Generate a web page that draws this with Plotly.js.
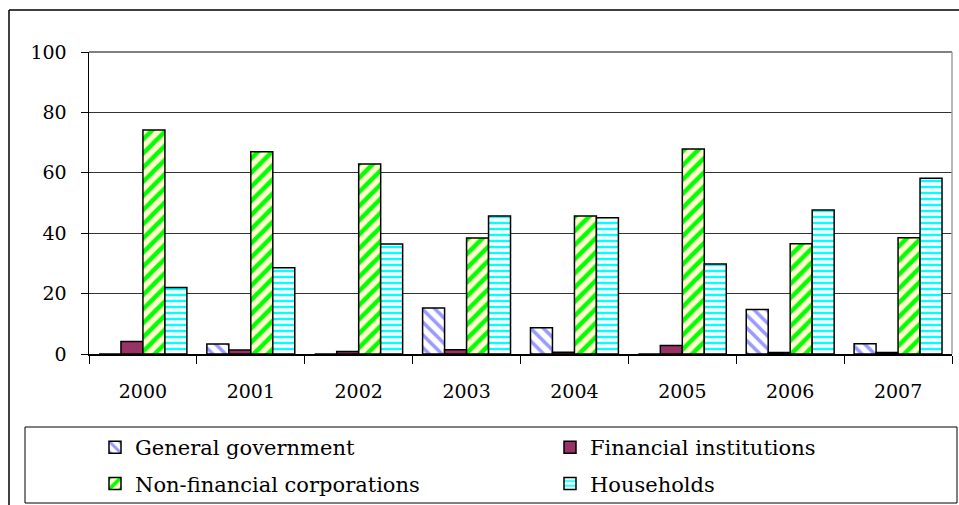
<!DOCTYPE html>
<html>
<head>
<meta charset="utf-8">
<script src="https://cdn.plot.ly/plotly-3.0.1.min.js"></script>
<style>html,body{margin:0;padding:0;background:#fff;}#chart{width:959px;height:505px;}</style>
</head>
<body>
<div id="chart"></div>
<script>
const years = ['2000','2001','2002','2003','2004','2005','2006','2007'];
const generalGovernment = [0, 3.3, 0, 15.2, 8.7, 0, 14.7, 3.4];
const financialInstitutions = [4.1, 1.3, 0.8, 1.4, 0.6, 2.8, 0.5, 0.5];
const nonFinancialCorporations = [74.2, 67.0, 62.9, 38.4, 45.7, 67.9, 36.5, 38.5];
const households = [22.0, 28.6, 36.4, 45.7, 45.1, 29.8, 47.7, 58.2];
const seriesNames = ['General government','Financial institutions','Non-financial corporations','Households'];

const W = 959, H = 505;
const M = {l: 89, r: 7, t: 52, b: 151, autoexpand: false};
const PW = W - M.l - M.r, PH = H - M.t - M.b;
const px = x => (x - M.l) / PW;
const py = y => (H - M.b - y) / PH;

const serif = "DejaVu Serif";
const line = {color: '#000', width: 1.5};

const traces = [
  {type:'bar', name: seriesNames[0], x: years, y: generalGovernment, legend:'legend', legendgroup:'a',
   marker:{color:'#ffffff', line: line, pattern:{shape:'\\', fgcolor:'#9999ff', bgcolor:'#ffffff', size:9, solidity:0.4, fillmode:'replace'}}},
  {type:'bar', name: seriesNames[1], x: years, y: financialInstitutions, legend:'legend2', legendgroup:'b',
   marker:{color:'#993366', line: line}},
  {type:'bar', name: seriesNames[2], x: years, y: nonFinancialCorporations, legend:'legend', legendgroup:'c',
   marker:{color:'#ffffcc', line: line, pattern:{shape:'/', fgcolor:'#00ff00', bgcolor:'#ffffcc', size:10, solidity:0.45, fillmode:'replace'}}},
  {type:'bar', name: seriesNames[3], x: years, y: households, legend:'legend2', legendgroup:'d',
   marker:{color:'#ffffff', line: line, pattern:{shape:'-', fgcolor:'#00ffff', bgcolor:'#ffffff', size:6, solidity:0.4, fillmode:'replace'}}}
];

const legendCommon = {
  orientation:'v', yanchor:'top', xanchor:'left', bgcolor:'rgba(0,0,0,0)', borderwidth:0,
  font:{family: serif, size: 21, color:'#000'}, tracegroupgap: 6, itemwidth: 30, traceorder:'grouped'
};

const layout = {
  width: W, height: H,
  margin: M,
  paper_bgcolor:'#ffffff', plot_bgcolor:'#ffffff',
  barmode:'group', bargap: 0.185, bargroupgap: 0,
  font:{family: serif, color:'#000'},
  showlegend: true,
  legend: Object.assign({}, legendCommon, {x: px(95), y: py(427)}),
  legend2: Object.assign({}, legendCommon, {x: px(550), y: py(427)}),
  xaxis:{type:'category', showline:true, linecolor:'#000', linewidth:1.5, ticks:'outside', tickson:'boundaries',
         ticklen:8, tickcolor:'#000', tickwidth:1, showgrid:false, tickfont:{size:19, family: serif},
         ticklabelstandoff: 20, zeroline:false, fixedrange:true},
  yaxis:{range:[0,100], dtick:20, showline:true, linecolor:'#000', linewidth:1.5, ticks:'outside', ticklen:7,
         tickcolor:'#000', tickwidth:1, showgrid:true, gridcolor:'#333333', gridwidth:1, zeroline:false,
         tickfont:{size:19, family: serif}, ticklabelstandoff: 10, fixedrange:true},
  shapes:[
    {type:'line', xref:'paper', yref:'paper', x0:0, x1:1, y0:1, y1:1, line:{color:'#808080', width:2}},
    {type:'line', xref:'paper', yref:'paper', x0:1, x1:1, y0:0, y1:1, line:{color:'#a0a0a0', width:1.5}},
    {type:'rect', xref:'paper', yref:'paper', x0:px(25), x1:px(957), y0:py(427), y1:py(503), line:{color:'#000', width:1}, layer:'below'},
    {type:'line', xref:'paper', yref:'paper', x0:px(9), x1:px(959), y0:py(10), y1:py(10), line:{color:'#000', width:1.5}},
    {type:'line', xref:'paper', yref:'paper', x0:px(9), x1:px(9), y0:py(10), y1:py(505), line:{color:'#000', width:1.5}}
  ]
};

Plotly.newPlot('chart', traces, layout, {displayModeBar:false, staticPlot:true});
</script>
</body>
</html>
